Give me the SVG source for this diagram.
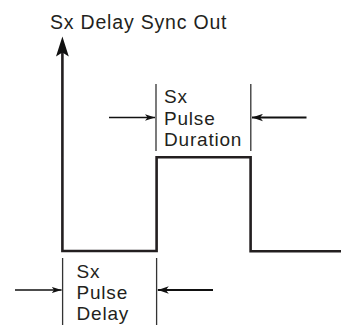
<svg xmlns="http://www.w3.org/2000/svg" width="341" height="325" viewBox="0 0 341 325">
<style>
text{font-family:"Liberation Sans",Arial,Helvetica,sans-serif;font-size:19px;letter-spacing:0.8px;fill:#231f20}
.wave{fill:none;stroke:#231f20;stroke-width:2.6;stroke-linejoin:miter}
.tick{stroke:#333;stroke-width:1.3;fill:none}
.dim{stroke:#111;stroke-width:1.6;fill:none}
.dimb{stroke:#111;stroke-width:2;fill:none}
</style>
<defs>
<marker id="ahR" viewBox="0 0 10 8" refX="10" refY="4" markerWidth="10" markerHeight="8" markerUnits="userSpaceOnUse" orient="auto">
<path d="M0,0.8 L10,4 L0,7.2 L2.5,4 Z" fill="#111"/>
</marker>
<marker id="ahL" viewBox="0 0 11 8" refX="11" refY="4" markerWidth="11" markerHeight="8" markerUnits="userSpaceOnUse" orient="auto">
<path d="M0,0.3 L11,4 L0,7.7 L3,4 Z" fill="#111"/>
</marker>
</defs>
<g id="title"><text x="50" y="29" style="font-size:19.5px">Sx Delay Sync Out</text></g>
<g id="waveform">
<path class="wave" d="M62.4,52 V251 H156.6 V157.3 H250.6 V251.3 H341"/>
<path d="M62.4,36.5 L68.8,56.5 L62.4,52.5 L56,56.5 Z" fill="#111"/>
</g>
<g id="duration">
<text x="164" y="103">Sx</text>
<text x="164" y="125">Pulse</text>
<text x="164" y="146">Duration</text>
</g>
<g id="delay">
<text x="76.5" y="278">Sx</text>
<text x="76.5" y="299">Pulse</text>
<text x="76.5" y="320">Delay</text>
</g>
<g id="connectors">
<line class="tick" x1="156" y1="84" x2="156" y2="151"/>
<line class="tick" x1="250.8" y1="84" x2="250.8" y2="151"/>
<line class="tick" x1="62.6" y1="258" x2="62.6" y2="325"/>
<line class="tick" x1="156.6" y1="258" x2="156.6" y2="325"/>
<line class="dim" x1="109" y1="117.5" x2="155" y2="117.5" marker-end="url(#ahR)"/>
<line class="dimb" x1="306.5" y1="117.5" x2="252" y2="117.5" marker-end="url(#ahL)"/>
<line class="dim" x1="15" y1="290" x2="61.6" y2="290" marker-end="url(#ahR)"/>
<line class="dimb" x1="213" y1="290" x2="157.8" y2="290" marker-end="url(#ahL)"/>
</g>
</svg>
